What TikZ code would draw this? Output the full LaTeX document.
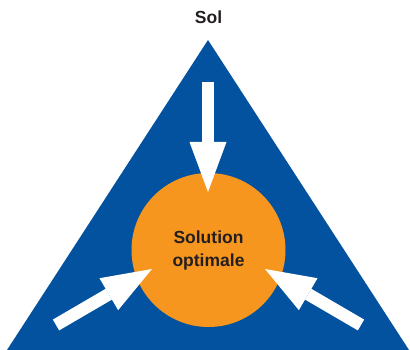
\documentclass[tikz,border=0pt]{standalone}
\usepackage{fontspec}
\setmainfont{Liberation Sans}
\usetikzlibrary{arrows.meta}
\definecolor{triblue}{RGB}{2,82,160}
\definecolor{solorange}{RGB}{247,150,30}
\definecolor{txtdark}{RGB}{35,31,32}
\tikzset{
  blockarrow/.style={draw=white, line width=12.5pt, line cap=butt,
    -{Triangle[width=37pt,length=50pt,line width=0pt]}},
  lbl/.style={font=\bfseries\fontsize{17.5}{23}\selectfont, text=txtdark, inner sep=0pt}
}
\begin{document}
\begin{tikzpicture}[x=1pt,y=-1pt]
\useasboundingbox (0,0) rectangle (410,350);
\coordinate (apex) at (208,40);
\coordinate (bl) at (7,350);
\coordinate (br) at (409,350);
\fill[triblue] (apex) -- (bl) -- (br) -- cycle;
\node[lbl, anchor=base] (sol) at (208.5,24) {Sol};
\node[circle, fill=solorange, minimum size=154pt, inner sep=0pt, lbl, align=center] (opt) at (208.5,250) {Solution\\optimale};
\coordinate (t1) at (208,82);
\coordinate (h1) at (208,192);
\coordinate (t2) at (56,325);
\coordinate (h2) at (152,269);
\coordinate (t3) at (361,325);
\coordinate (h3) at (265,269);
\draw[blockarrow] (t1) -- (h1);
\draw[blockarrow] (t2) -- (h2);
\draw[blockarrow] (t3) -- (h3);
\end{tikzpicture}
\end{document}
